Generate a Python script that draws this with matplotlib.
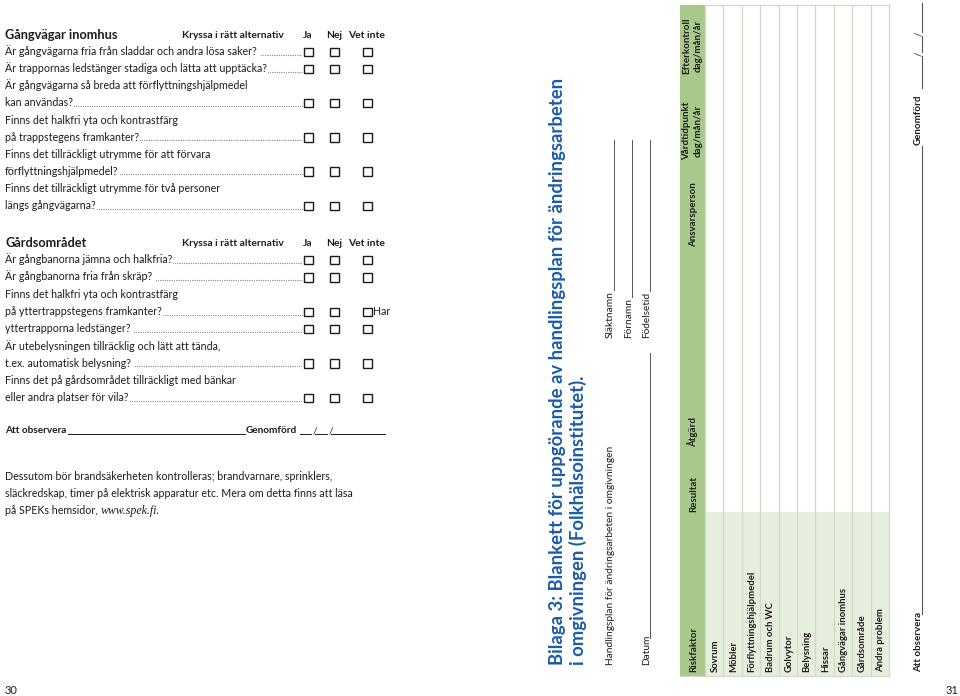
import matplotlib
matplotlib.use('Agg')
import matplotlib.pyplot as plt
from matplotlib.patches import Rectangle

plt.rcParams['font.family'] = ['Lato', 'DejaVu Sans']

# --- data -------------------------------------------------------------
sec1_title = 'Gångvägar inomhus'
sec1_lines = [
    ('Är gångvägarna fria från sladdar och andra lösa saker? ', True),
    ('Är trappornas ledstänger stadiga och lätta att upptäcka?', True),
    ('Är gångvägarna så breda att förflyttningshjälpmedel', False),
    ('kan användas?', True),
    ('Finns det halkfri yta och kontrastfärg', False),
    ('på trappstegens framkanter?', True),
    ('Finns det tillräckligt utrymme för att förvara', False),
    ('förflyttningshjälpmedel?', True),
    ('Finns det tillräckligt utrymme för två personer', False),
    ('längs gångvägarna?', True),
]
sec2_title = 'Gårdsområdet'
sec2_lines = [
    ('Är gångbanorna jämna och halkfria?', True),
    ('Är gångbanorna fria från skräp? ', True),
    ('Finns det halkfri yta och kontrastfärg', False),
    ('på yttertrappstegens framkanter?', True),
    ('yttertrapporna ledstänger? ', True),
    ('Är utebelysningen tillräcklig och lätt att tända,', False),
    ('t.ex. automatisk belysning? ', True),
    ('Finns det på gårdsområdet tillräckligt med bänkar', False),
    ('eller andra platser för vila?', True),
]
answer_labels = ['Ja', 'Nej', 'Vet inte']
instruction = 'Kryssa i rätt alternativ'
paragraph = ['Dessutom bör brandsäkerheten kontrolleras; brandvarnare, sprinklers,',
             'släckredskap, timer på elektrisk apparatur etc. Mera om detta finns att läsa',
             'på SPEKs hemsidor, ']
url = 'www.spek.fi.'

title_lines = ['Bilaga 3: Blankett för uppgörande av handlingsplan för ändringsarbeten',
               'i omgivningen (Folkhälsoinstitutet).']
plan_label = 'Handlingsplan för ändringsarbeten i omgivningen'
name_fields = ['Släktnamn', 'Förnamn', 'Födelsetid']
table_headers = ['Riskfaktor', 'Resultat', 'Åtgärd', 'Ansvarsperson',
                 'Vårdtidpunkt\ndag/mån/år', 'Efterkontroll\ndag/mån/år']
risk_rows = ['Sovrum', 'Möbler', 'Förflyttningshjälpmedel', 'Badrum och WC', 'Golvytor',
             'Belysning', 'Hissar', 'Gångvägar inomhus', 'Gårdsområde', 'Andra problem']

TXT = '#1e1b1c'
BLUE = '#1b5ca8'
GREEN = '#a9c98c'
LIGHT = '#e6eedd'
GRID = '#d3d9c9'

fig = plt.figure(figsize=(9.6, 6.96), dpi=100)
ax = fig.add_axes([0, 0, 1, 1])
ax.set_xlim(0, 960)
ax.set_ylim(696, 0)
ax.axis('off')
inv = ax.transData.inverted()
renderer = fig.canvas.get_renderer()

def text_end(t):
    bb = t.get_window_extent(renderer=renderer)
    return inv.transform((bb.x1, bb.y0))[0]

box_x = [308, 334, 367]
FS = 7.65

def checklist(title, lines, y_head, dy, har_row=None):
    ax.text(5, y_head + 5, title, fontsize=9.2, fontweight='bold', color=TXT, va='baseline')
    ax.text(182, y_head + 4, instruction, fontsize=7.4, fontweight='bold', color=TXT, va='baseline')
    for lab, x in zip(answer_labels, box_x):
        ax.text(x, y_head + 4, lab, fontsize=7.4, fontweight='bold', color=TXT,
                ha='center', va='baseline')
    for i, (s, boxes) in enumerate(lines):
        y = y_head + dy * (i + 1)
        t = ax.text(5, y + 4, s, fontsize=FS, color=TXT, va='baseline')
        if boxes:
            x0 = text_end(t) + 1
            ax.plot([x0, 302], [y + 3.5, y + 3.5], color=TXT, lw=0.8,
                    linestyle=(0, (0.4, 1.2)))
            for x in box_x:
                ax.add_patch(Rectangle((x - 4, y - 3.5), 8.5, 8.5, fill=False,
                                       ec=TXT, lw=1.0))
            if har_row == i:
                ax.text(373.5, y + 4, 'Har', fontsize=FS, color=TXT, va='baseline')

checklist(sec1_title, sec1_lines, 34, 17.1)
checklist(sec2_title, sec2_lines, 242, 17.25, har_row=3)

# Att observera / Genomförd row (left page)
yb = 433
t = ax.text(5, yb, 'Att observera', fontsize=7.2, fontweight='bold', color=TXT, va='baseline')
ax.plot([text_end(t) + 2, 245], [yb + 1, yb + 1], color=TXT, lw=0.7)
t = ax.text(246, yb, 'Genomförd', fontsize=7.2, fontweight='bold', color=TXT, va='baseline')
xg = text_end(t) + 3
ax.plot([xg, xg + 11], [yb + 1, yb + 1], color=TXT, lw=0.7)
ax.text(xg + 12, yb, '/', fontsize=7.2, color=TXT, va='baseline')
ax.plot([xg + 15, xg + 27], [yb + 1, yb + 1], color=TXT, lw=0.7)
ax.text(xg + 28, yb, '/', fontsize=7.2, color=TXT, va='baseline')
ax.plot([xg + 31, 385], [yb + 1, yb + 1], color=TXT, lw=0.7)

for i, s in enumerate(paragraph):
    t = ax.text(5, 480 + 17 * i, s, fontsize=FS, color=TXT, va='baseline')
ax.text(text_end(t), 480 + 17 * 2, url, fontsize=8.6, family='Liberation Serif',
        style='italic', color=TXT, va='baseline')

ax.text(5, 694, '30', fontsize=8.0, color=TXT, va='baseline')
ax.text(958, 694, '31', fontsize=8.0, color=TXT, va='baseline', ha='right')

# --- right page (rotated) --------------------------------------------
for i, s in enumerate(title_lines):
    ax.text(563 + 21 * i, 665, s, fontsize=13.3, fontweight='bold', color=BLUE,
            rotation=90, rotation_mode='anchor', ha='left', va='baseline')

ax.text(613, 665, plan_label, fontsize=7.3, color=TXT, rotation=90,
        rotation_mode='anchor', ha='left', va='baseline')
t = ax.text(649, 665, 'Datum', fontsize=7.3, color=TXT, rotation=90,
            rotation_mode='anchor', ha='left', va='baseline')
ax.plot([650, 650], [638, 353], color='#555555', lw=0.7)

for i, s in enumerate(name_fields):
    x = 613 + 18 * i
    t = ax.text(x, 338, s, fontsize=7.3, color=TXT, rotation=90,
                rotation_mode='anchor', ha='left', va='baseline')
    bb = t.get_window_extent(renderer=renderer)
    ytop = inv.transform((bb.x0, bb.y1))[1]
    ax.plot([x + 1, x + 1], [ytop - 1, 140], color='#555555', lw=0.7)

# table
tab_x0, tab_x1 = 680, 889
hdr_w = 25
top, bottom = 5, 676
n = len(risk_rows)
row_w = (tab_x1 - tab_x0 - hdr_w) / n
ax.add_patch(Rectangle((tab_x0, top), hdr_w, bottom - top, color=GREEN, lw=0))
ax.add_patch(Rectangle((tab_x0 + hdr_w, 512), tab_x1 - tab_x0 - hdr_w, bottom - 512,
                       color=LIGHT, lw=0))
for k in range(n + 1):
    x = tab_x0 + hdr_w + k * row_w
    ax.plot([x, x], [top, bottom], color=GRID, lw=0.9)
ax.plot([tab_x0 + hdr_w, tab_x1], [top, top], color=GRID, lw=0.9)
ax.plot([tab_x0, tab_x1], [bottom, bottom], color=GRID, lw=0.9)

hdr_pos = [672, 512, 447, 215, 131, 46]
hdr_anchor = ['left', 'left', 'left', 'center', 'center', 'center']
for s, y, a in zip(table_headers, hdr_pos, hdr_anchor):
    if '\n' in s:
        l1, l2 = s.split('\n')
        ax.text(689, y, l1, fontsize=7.0, fontweight='bold', color=TXT, rotation=90,
                rotation_mode='anchor', ha='center', va='baseline')
        ax.text(701, y, l2, fontsize=7.0, fontweight='bold', color=TXT, rotation=90,
                rotation_mode='anchor', ha='center', va='baseline')
    else:
        ax.text(696, y, s, fontsize=7.0, fontweight='bold', color=TXT, rotation=90,
                rotation_mode='anchor', ha=a, va='baseline')

for k, s in enumerate(risk_rows):
    x = tab_x0 + hdr_w + (k + 0.5) * row_w + 3.5
    ax.text(x, 672, s, fontsize=6.8, fontweight='bold', color=TXT, rotation=90,
            rotation_mode='anchor', ha='left', va='baseline')

# Att observera / Genomförd (right page)
xr = 921
t = ax.text(xr, 672, 'Att observera', fontsize=7.0, fontweight='bold', color=TXT,
            rotation=90, rotation_mode='anchor', ha='left', va='baseline')
ax.plot([xr + 0.5, xr + 0.5], [614, 146], color='#555555', lw=0.8)
ax.text(xr, 145, 'Genomförd', fontsize=7.0, fontweight='bold', color=TXT,
        rotation=90, rotation_mode='anchor', ha='left', va='baseline')
ax.plot([xr + 0.5, xr + 0.5], [88, 56], color='#555555', lw=0.8)
ax.text(xr, 56, '/', fontsize=7.0, color=TXT, rotation=90, rotation_mode='anchor',
        ha='left', va='baseline')
ax.plot([xr + 0.5, xr + 0.5], [52, 36], color='#555555', lw=0.8)
ax.text(xr, 36, '/', fontsize=7.0, color=TXT, rotation=90, rotation_mode='anchor',
        ha='left', va='baseline')
ax.plot([xr + 0.5, xr + 0.5], [32, 3], color='#555555', lw=0.8)

fig.savefig('out.png', dpi=100, facecolor='white')
